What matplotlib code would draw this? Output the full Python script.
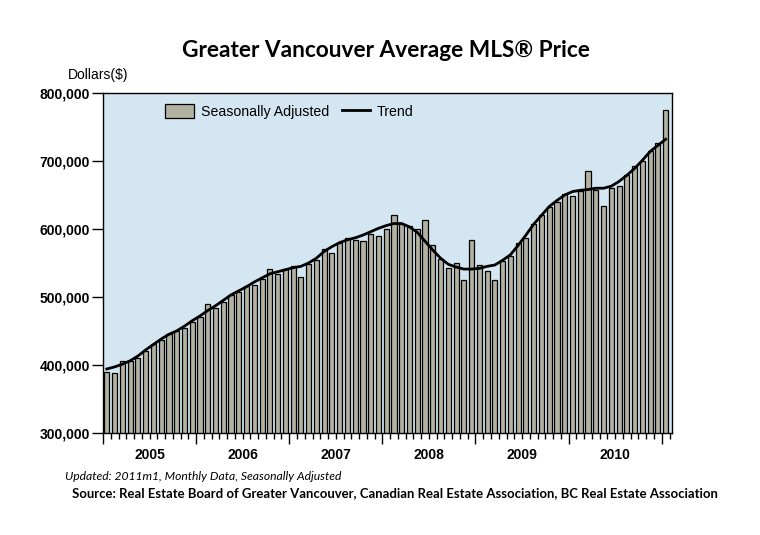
#!/usr/bin/env python3
"""Greater Vancouver average MLS price, monthly, seasonally adjusted, 2005m1-2011m1."""
import numpy as np
import matplotlib
matplotlib.use("Agg")
import matplotlib.pyplot as plt
from matplotlib.ticker import FuncFormatter, FixedLocator
from matplotlib.patches import Patch
from matplotlib.lines import Line2D

YEARS = ["2005", "2006", "2007", "2008", "2009", "2010"]

# seasonally adjusted average price, thousands of dollars, 2005m1 .. 2011m1
PRICE_K = [
    389, 388, 406, 405, 410, 420, 431, 437, 446, 450, 455, 463,   # 2005
    470, 489, 483, 493, 503, 507, 516, 517, 526, 541, 534, 541,   # 2006
    545, 529, 549, 554, 571, 564, 580, 586, 584, 582, 592, 589,   # 2007
    600, 620, 608, 605, 600, 613, 576, 556, 542, 550, 525, 584,   # 2008
    547, 538, 525, 553, 560, 579, 586, 607, 620, 632, 640, 651,   # 2009
    648, 656, 685, 657, 634, 661, 663, 680, 692, 700, 715, 726,   # 2010
    775,                                                          # 2011m1
]

# trend, thousands of dollars
TREND_K = [
    394, 397, 401, 406, 413, 422, 430, 438, 445, 450, 457, 465,
    472, 480, 487, 495, 503, 509, 515, 522, 528, 534, 537, 540,
    543, 545, 550, 557, 567, 574, 580, 584, 587, 591, 596, 601,
    605, 608, 608, 603, 595, 582, 569, 557, 548, 544, 541, 541,
    542, 545, 547, 554, 562, 576, 591, 607, 620, 633, 642, 650,
    655, 657, 658, 660, 660, 663, 670, 679, 689, 701, 714, 723,
    732,
]

BG = "#d3e6f1"
BAR = "#b3b1a1"
AXFONT = ["Liberation Sans", "DejaVu Sans"]
TITLEFONT = ["Lato", "DejaVu Sans"]


def main():
    price = np.array(PRICE_K) * 1000.0
    trend = np.array(TREND_K) * 1000.0
    x = np.arange(len(price))

    fig = plt.figure(figsize=(7.6, 5.35), dpi=100)
    ax = fig.add_axes([0.1355, 0.191, 0.7485, 0.635])
    ax.set_facecolor(BG)

    ax.bar(x, price, width=0.66, color=BAR, edgecolor="black", linewidth=0.9,
           zorder=2, label="Seasonally Adjusted")
    ax.plot(x, trend, color="black", lw=2.0, zorder=3, label="Trend")

    ax.set_xlim(-0.5, len(price) - 0.2)
    ax.set_ylim(300000, 800000)

    # months as minor ticks, years as major ticks, year labels centred
    ax.xaxis.set_minor_locator(FixedLocator(np.arange(-0.5, len(price), 1.0)))
    ax.xaxis.set_major_locator(FixedLocator(np.arange(-0.5, len(price), 12.0)))
    ax.set_xticklabels([])
    ax.tick_params(axis="x", which="major", length=8, width=1, direction="out")
    ax.tick_params(axis="x", which="minor", length=4.5, width=1, direction="out")
    for i, yr in enumerate(YEARS):
        ax.text(5.5 + 12 * i, -0.065, yr, transform=ax.get_xaxis_transform(),
                ha="center", va="center", fontsize=10, fontweight="bold",
                family=AXFONT)

    ax.set_yticks(np.arange(300000, 800001, 100000))
    ax.yaxis.set_major_formatter(FuncFormatter(lambda v, p: f"{int(v):,}"))
    ax.tick_params(axis="y", length=8, width=1, direction="out", pad=1.5)
    for lab in ax.get_yticklabels():
        lab.set_fontweight("bold")
        lab.set_fontsize(10)
        lab.set_family(AXFONT)

    for s in ax.spines.values():
        s.set_color("black")
        s.set_linewidth(1.0)

    handles = [Patch(facecolor=BAR, edgecolor="black", linewidth=0.9),
               Line2D([0], [0], color="black", lw=2.0)]
    ax.legend(handles, ["Seasonally Adjusted", "Trend"], ncol=2, frameon=False,
              loc="upper left", bbox_to_anchor=(0.087, 1.005),
              prop={"family": AXFONT, "size": 10.2}, handlelength=2.0,
              handleheight=1.1, columnspacing=0.9, handletextpad=0.5)

    fig.text(0.508, 0.905, "Greater Vancouver Average MLS® Price",
             ha="center", va="center", fontsize=16.3, fontweight="bold",
             family=TITLEFONT)
    fig.text(0.089, 0.86, "Dollars($)", ha="left", va="center", fontsize=10,
             family=AXFONT)
    fig.text(0.086, 0.11, "Updated: 2011m1, Monthly Data, Seasonally Adjusted",
             ha="left", va="center", fontsize=8.7, style="italic",
             family=TITLEFONT)
    fig.text(0.095, 0.078,
             "Source: Real Estate Board of Greater Vancouver, Canadian Real "
             "Estate Association, BC Real Estate Association",
             ha="left", va="center", fontsize=9.45, fontweight="bold",
             family=TITLEFONT)

    fig.savefig("out.png", dpi=100, facecolor="white")


if __name__ == "__main__":
    main()
